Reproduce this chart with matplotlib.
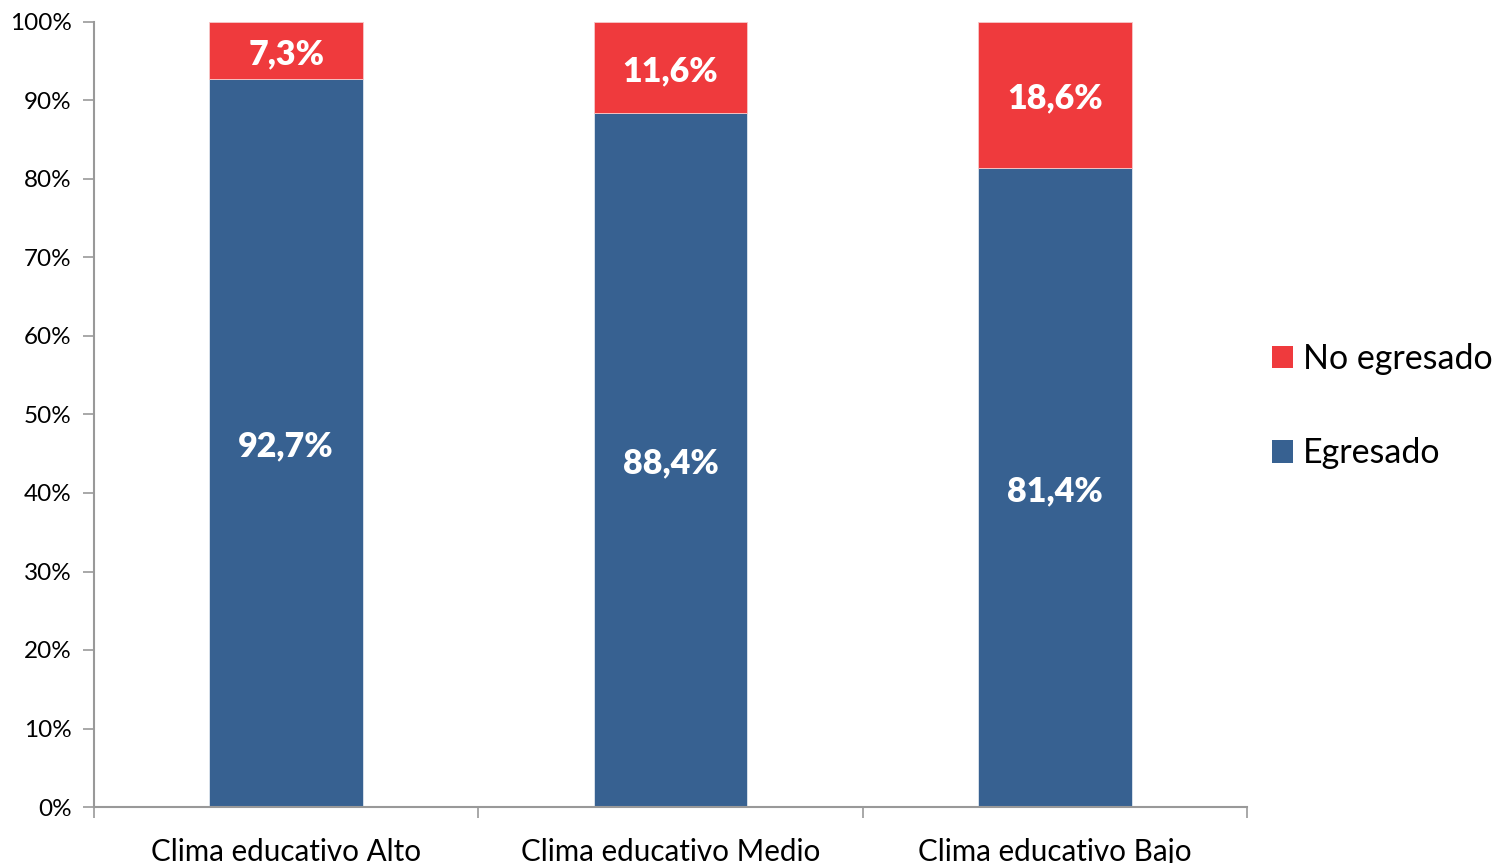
import matplotlib
matplotlib.use("Agg")
import matplotlib.pyplot as plt
from matplotlib.patches import Patch

categories = ["Clima educativo Alto", "Clima educativo Medio", "Clima educativo Bajo"]
egresado = [92.7, 88.4, 81.4]
no_egresado = [7.3, 11.6, 18.6]
yticks = [0, 10, 20, 30, 40, 50, 60, 70, 80, 90, 100]

BLUE = "#376191"
RED = "#EF3A3D"
AXC = "#999999"
FONT = "Lato"

plt.rcParams["font.family"] = [FONT, "DejaVu Sans"]

fig = plt.figure(figsize=(14.98, 8.63), dpi=100)
ax = fig.add_axes([94 / 1498, 1 - 807 / 863, (1247 - 94) / 1498, (807 - 22) / 863])

x = list(range(len(categories)))
w = 0.4
ax.bar(x, egresado, width=w, color=BLUE, edgecolor="#dfe6ef", linewidth=0.6, zorder=2)
ax.bar(x, no_egresado, width=w, bottom=egresado, color=RED, edgecolor="#f7c9ca", linewidth=0.6, zorder=2)

for i in x:
    ax.annotate(f"{egresado[i]:.1f}%".replace(".", ","), (i, egresado[i] / 2),
                xytext=(0, -2.5), textcoords="offset points", ha="center", va="center",
                color="white", fontsize=24.5, fontweight="heavy")
    ax.annotate(f"{no_egresado[i]:.1f}%".replace(".", ","), (i, egresado[i] + no_egresado[i] / 2),
                xytext=(0, -2.5), textcoords="offset points", ha="center", va="center",
                color="white", fontsize=24.5, fontweight="heavy")

ax.set_xlim(-0.5, 2.5)
ax.set_ylim(0, 100)
ax.set_yticks(yticks)
ax.set_yticklabels([f"{t}%" for t in yticks], fontsize=17.5)
ax.set_xticks([-0.5, 0.5, 1.5, 2.5])
ax.set_xticklabels([])
ax.set_xticks(x, minor=True)
ax.set_xticklabels(categories, minor=True, fontsize=21.3)
ax.tick_params(axis="x", which="minor", length=0, pad=22)
ax.tick_params(axis="x", which="major", length=8, width=1.2, color=AXC, direction="out")
ax.tick_params(axis="y", length=8, width=1.2, color=AXC, direction="out", pad=8)

for s in ["top", "right"]:
    ax.spines[s].set_visible(False)
for s in ["left", "bottom"]:
    ax.spines[s].set_color(AXC)
    ax.spines[s].set_linewidth(1.5)

handles = [Patch(facecolor=RED, edgecolor="none"), Patch(facecolor=BLUE, edgecolor="none")]
fig.legend(handles, ["No egresado", "Egresado"], loc="center left",
           bbox_to_anchor=(1272 / 1498, 1 - 406 / 863), frameon=False, fontsize=24.5,
           borderpad=0, borderaxespad=0,
           handlelength=0.62, handleheight=0.62, handletextpad=0.3, labelspacing=1.85)

fig.savefig("out.png", dpi=100)
